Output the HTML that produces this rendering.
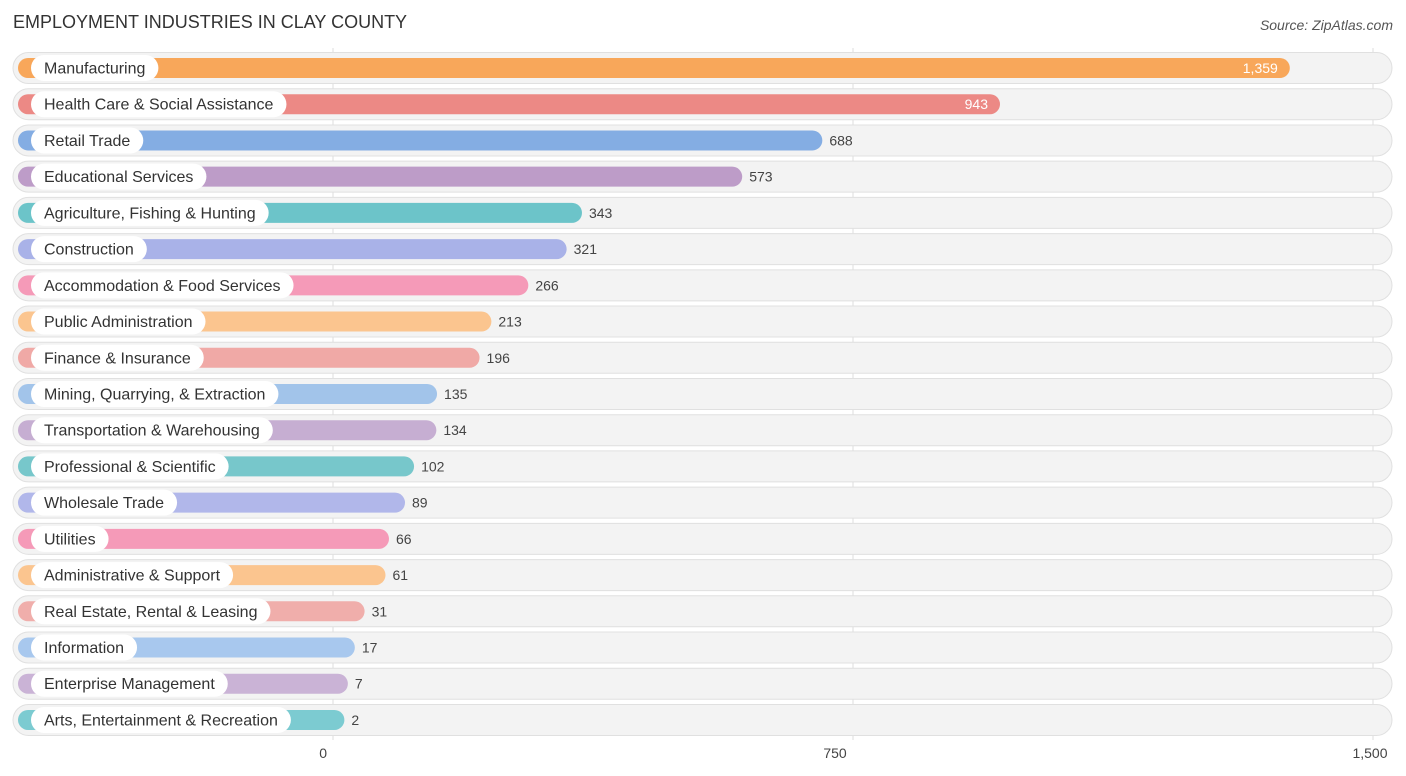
<!DOCTYPE html>
<html><head><meta charset="utf-8"><style>
body{margin:0;background:#fff;font-family:"Liberation Sans",sans-serif}
svg{display:block}
</style></head><body>
<svg id="c" width="1406" height="776">
<text x="13" y="28" font-size="18" fill="#333">EMPLOYMENT INDUSTRIES IN CLAY COUNTY</text>
<text x="1393" y="30" font-size="14" fill="#555" font-style="italic" text-anchor="end">Source: ZipAtlas.com</text>
</svg>
<script>
const categories=["Manufacturing","Health Care & Social Assistance","Retail Trade","Educational Services","Agriculture, Fishing & Hunting","Construction","Accommodation & Food Services","Public Administration","Finance & Insurance","Mining, Quarrying, & Extraction","Transportation & Warehousing","Professional & Scientific","Wholesale Trade","Utilities","Administrative & Support","Real Estate, Rental & Leasing","Information","Enterprise Management","Arts, Entertainment & Recreation"];
const values=[1359,943,688,573,343,321,266,213,196,135,134,102,89,66,61,31,17,7,2];
const colors=["#f8a75a","#ec8985","#84ade3","#bd9cc8","#6cc4c9","#a9b2e8","#f59ab8","#fbc58f","#f0a9a6","#a2c4ea","#c6aed2","#77c7cb","#b1b7ea","#f59ab8","#fbc58f","#f0aeab","#a8c8ee","#cab3d6","#7ccbd1"];
const ticks=[0,750,1500];
const svg=document.getElementById('c');const NS="http://www.w3.org/2000/svg";
function mk(t,a,p){const e=document.createElementNS(NS,t);for(const k in a)e.setAttribute(k,a[k]);(p||svg).appendChild(e);return e;}
const gx=v=>333+v*0.69333;
const bx=v=>343+v*0.6967;
const ry=i=>68+i*36.22;
ticks.forEach(t=>{
 const l=mk('line',{x1:gx(t),x2:gx(t),y1:48,y2:740,stroke:'#ddd','stroke-width':1});
 
 const tx=mk('text',{x:gx(t)-(t==0?6:t==1500?3:18),y:758,'font-size':14,fill:'#444','text-anchor':t==0?'end':'middle'});
 tx.textContent=t.toLocaleString('en-US');
 
});
const meas=mk('text',{'font-size':16,x:-1000,y:-1000});
categories.forEach((c,i)=>{
 const y=ry(i);
 const g=mk('g',{});
 const bg=mk('rect',{x:13,y:y-15.5,width:1379,height:31,rx:15.5,fill:'#f3f3f3',stroke:'#e0e0e0'},g);
 
 const e=bx(values[i]);
 const b=mk('rect',{x:18,y:y-10,width:e-18,height:20,rx:10,fill:colors[i]},g);
 
 meas.textContent=c;const w=meas.getComputedTextLength();
 const p=mk('rect',{x:31,y:y-13,width:w+26,height:26,rx:13,fill:'#fff'},g);
 
 const t=mk('text',{x:44,y:y+5.5,'font-size':16,fill:'#333'},g);t.textContent=c;
 
 const inside=values[i]>800;
 const v=mk('text',{x:inside?e-12:e+7,y:y+5,'font-size':14,fill:inside?'#fff':'#444','text-anchor':inside?'end':'start'},g);
 v.textContent=values[i].toLocaleString('en-US');
 
});
meas.remove();
</script>
</body></html>
